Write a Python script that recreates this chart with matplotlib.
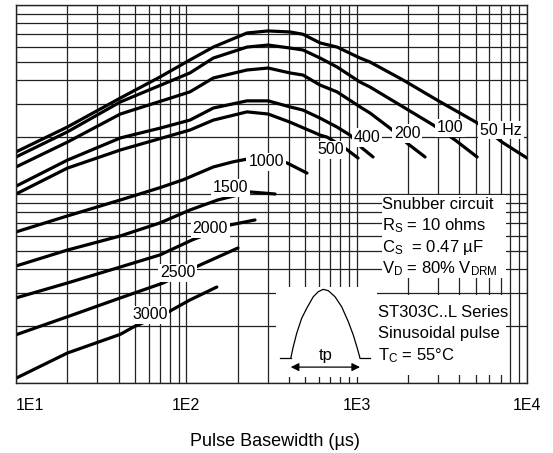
import matplotlib.pyplot as plt
from matplotlib.patches import Rectangle
from matplotlib.ticker import NullFormatter

plt.rcParams['font.family'] = ['Liberation Sans', 'DejaVu Sans']
plt.rcParams['mathtext.default'] = 'regular'

# pulse basewidth (us) vs peak on-state current (A), one pair per frequency
x_50 = [10, 20, 41, 70, 105, 144, 227, 302, 406, 484, 610, 767, 1047, 1199, 1873, 2966, 5094, 7145, 10000]
y_50 = [1670, 2260, 3220, 4160, 5120, 5990, 7110, 7290, 7200, 7000, 6300, 5990, 5240, 4990, 4010, 3140, 2380, 1880, 1550]

x_100 = [10, 20, 41, 105, 144, 227, 302, 406, 484, 610, 767, 1047, 1199, 1873, 2809, 3784, 5094]
y_100 = [1570, 2130, 3070, 4370, 5240, 5990, 6140, 5920, 5780, 5240, 4700, 3910, 3680, 2890, 2320, 1930, 1570]

x_200 = [10, 20, 41, 105, 144, 227, 302, 406, 484, 610, 767, 1047, 1199, 1570, 2004, 2521]
y_200 = [1390, 1880, 2650, 3470, 4110, 4530, 4640, 4370, 4260, 3770, 3470, 2890, 2680, 2230, 1840, 1570]

x_400 = [10, 20, 41, 70, 105, 144, 227, 302, 406, 484, 610, 767, 914, 1076, 1248]
y_400 = [1100, 1510, 1980, 2230, 2460, 2850, 3110, 3110, 2890, 2780, 2520, 2260, 2050, 1750, 1570]

x_500 = [10, 20, 41, 105, 144, 227, 302, 406, 610, 670, 832, 1019]
y_500 = [1000, 1370, 1710, 2180, 2460, 2720, 2650, 2400, 2050, 2000, 1780, 1550]

x_1000 = [10, 20, 41, 70, 96, 144, 188, 227, 290, 390, 511]
y_1000 = [630, 765, 930, 1080, 1190, 1390, 1480, 1530, 1550, 1460, 1290]

x_1500 = [10, 20, 41, 70, 105, 153, 237, 332]
y_1500 = [416, 505, 600, 703, 823, 930, 1025, 1000]

x_2000 = [10, 20, 41, 70, 108, 181, 253]
y_2000 = [282, 338, 411, 476, 571, 686, 729]

x_2500 = [10, 20, 41, 73, 117, 201]
y_2500 = [180, 224, 282, 338, 416, 518]

x_3000 = [10, 20, 41, 49, 80, 105, 151]
y_3000 = [106, 144, 181, 198, 240, 275, 322]

curve_names = ['50 Hz', '100', '200', '400', '500', '1000', '1500', '2000', '2500', '3000']

# little pulse sketch, inset units 0..100
pulse_u = [14.6, 17.1, 20.5, 25.4, 30.4, 36.9, 41.9, 46.8, 51.8, 58.4, 65.0, 71.6, 76.5, 80.5, 83.2]
pulse_v = [20.8, 33.7, 48.6, 65.2, 76.3, 89.2, 94.8, 97.4, 95.9, 89.2, 78.1, 61.4, 46.7, 31.9, 20.8]

xticks = [10, 100, 1000, 10000]
xtick_labels = ['1E1', '1E2', '1E3', '1E4']

W, H = 553, 453
fig = plt.figure(figsize=(W / 100, H / 100), dpi=100)
ax = fig.add_axes([16 / W, 1 - 383 / H, 511 / W, 378 / H])
ax.set_xscale('log')
ax.set_yscale('log')
ax.set_xlim(10, 1e4)
ax.set_ylim(1e2, 1e4)

ax.grid(True, which='both', color='#222222', lw=0.9)
ax.set_axisbelow(True)
ax.tick_params(which='both', length=0)
ax.yaxis.set_major_formatter(NullFormatter())
ax.yaxis.set_minor_formatter(NullFormatter())
ax.xaxis.set_minor_formatter(NullFormatter())
ax.set_xticks(xticks, xtick_labels)
ax.tick_params(axis='x', pad=11, labelsize=11.5)
ax.get_xticklabels()[0].set_ha('left')
for s in ax.spines.values():
    s.set_color('#222222')
    s.set_linewidth(1)

curves = [(x_50, y_50), (x_100, y_100), (x_200, y_200), (x_400, y_400), (x_500, y_500),
          (x_1000, y_1000), (x_1500, y_1500), (x_2000, y_2000), (x_2500, y_2500), (x_3000, y_3000)]
for xs, ys in curves:
    ax.plot(xs, ys, color='black', lw=2.3, solid_capstyle='round', solid_joinstyle='round', zorder=2)

# curve labels sit on white boxes that cut the lines
label_pos = [(7050, 2180), (3530, 2235), (1980, 2100), (1150, 2000), (700, 1710),
             (294, 1477), (181, 1076), (138, 653), (89, 382), (61, 229)]
for name, (lx, ly) in zip(curve_names, label_pos):
    ax.text(lx, ly, name, ha='center', va='center', fontsize=11.5, zorder=5,
            bbox=dict(boxstyle='square,pad=0.12', fc='white', ec='none'))

# white patches behind the notes
ax.add_patch(Rectangle((0.716, 0.278), 0.243, 0.219, transform=ax.transAxes,
                       fc='white', ec='none', zorder=3))
ax.add_patch(Rectangle((0.706, 0.021), 0.253, 0.212, transform=ax.transAxes,
                       fc='white', ec='none', zorder=3))

snub = ['Snubber circuit', 'R$_S$ = 10 ohms', 'C$_S$  = 0.47 µF', 'V$_D$ = 80% V$_{DRM}$']
for txt, yb in zip(snub, [0.460, 0.405, 0.347, 0.291]):
    ax.text(0.717, yb, txt, transform=ax.transAxes, fontsize=12, va='baseline', zorder=4)

cond = ['ST303C..L Series', 'Sinusoidal pulse', 'T$_C$ = 55°C']
for txt, yb in zip(cond, [0.175, 0.119, 0.061]):
    ax.text(0.708, yb, txt, transform=ax.transAxes, fontsize=12, va='baseline', zorder=4)

fig.text(275 / W, 1 - 442 / H, 'Pulse Basewidth (µs)', ha='center', va='center', fontsize=13)

# pulse shape inset
axi = fig.add_axes([276 / W, 1 - 377 / H, 101 / W, 90 / H])
axi.set_xlim(0, 100)
axi.set_ylim(0, 100)
axi.set_xticks([])
axi.set_yticks([])
for s in axi.spines.values():
    s.set_visible(False)
axi.plot(pulse_u, pulse_v, color='black', lw=0.9)
axi.plot([4, 14.6], [20.8, 20.8], color='black', lw=0.9)
axi.plot([83.2, 93], [20.8, 20.8], color='black', lw=0.9)
axi.annotate('', xy=(14.6, 11), xytext=(83.2, 11),
             arrowprops=dict(arrowstyle='<|-|>', color='black', lw=0.9, mutation_scale=12,
                             shrinkA=0, shrinkB=0))
axi.text(49.5, 24, 'tp', ha='center', va='center', fontsize=12)

fig.savefig('out.png', dpi=100)
